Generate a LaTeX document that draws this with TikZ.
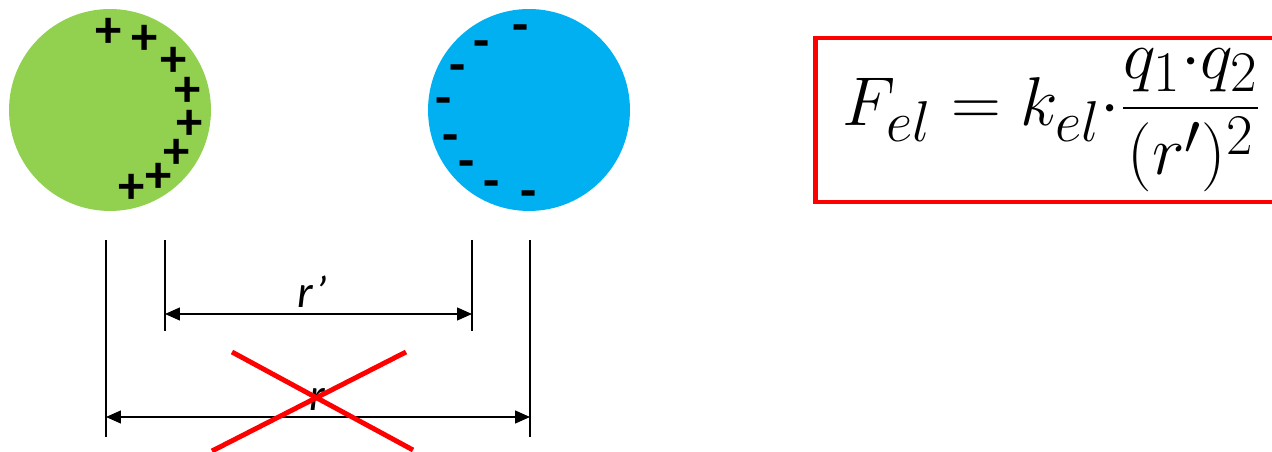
\documentclass[tikz,border=0pt]{standalone}
\usepackage[no-math]{fontspec}
\setmainfont{Carlito}
\usepackage{amsmath}
\usetikzlibrary{arrows.meta}
\definecolor{chargegreen}{RGB}{146,208,80}
\definecolor{chargeblue}{RGB}{0,176,240}
\definecolor{crossred}{RGB}{255,0,0}

\begin{document}
\begin{tikzpicture}[
    x=0.02cm, y=-0.02cm,
    ball/.style={circle, minimum size=4.04cm, inner sep=0pt},
    charge/.style={inner sep=0pt, font=\fontsize{30}{30}\selectfont\bfseries},
    dimlabel/.style={inner sep=0pt, anchor=base, font=\fontsize{26}{26}\selectfont\itshape},
    guide/.style={line width=0.75pt},
    dim/.style={{Triangle[length=3mm,width=2.6mm]}-{Triangle[length=3mm,width=2.6mm]}, line width=0.75pt},
    cross/.style={crossred, line width=2.8pt}
]
    \useasboundingbox (0,0) rectangle (1272,452);

    % the two charged balls
    \node[ball, fill=chargegreen] (pos) at (110,110) {};
    \node[ball, fill=chargeblue] (neg) at (529,110) {};
    \foreach \px/\py [count=\i] in {109/33, 145/40, 174/62, 188/92, 190/125, 177/154, 159/178, 132/189}
        \node[charge] (plus\i) at (\px,\py) {+};
    \foreach \px/\py [count=\i] in {521/34, 482/50, 458/74, 444/107, 451/144, 467/170, 492/190, 529/200}
        \node[charge] (minus\i) at (\px,\py) {-};

    % Coulomb's law
    \node[draw=crossred, line width=2.8pt, minimum width=9.48cm, minimum height=3.28cm] (law) at (1052,120)
        {\scalebox{1.58}{\fontsize{24.88}{30}\selectfont $F_{el}=k_{el}{\cdot}\dfrac{q_1{\cdot}q_2}{(r')^2}$}};

    % dimension lines
    \coordinate (outL) at (106,240);
    \coordinate (inL) at (165,240);
    \coordinate (inR) at (472,240);
    \coordinate (outR) at (530,240);
    \draw[guide] (outL) -- ++(0,197);
    \draw[guide] (inL) -- ++(0,91);
    \draw[guide] (inR) -- ++(0,91);
    \draw[guide] (outR) -- ++(0,197);
    \coordinate (rpL) at (165,314);
    \coordinate (rpR) at (472,314);
    \coordinate (rL) at (106,417);
    \coordinate (rR) at (530,417);
    \draw[dim] (rpL) -- (rpR);
    \draw[dim] (rL) -- (rR);
    \node[dimlabel] (rplabel) at (312,308) {r’};
    \node[dimlabel] (rlabel) at (317,411) {r};

    % crossed out
    \coordinate (xa) at (232,352);
    \coordinate (xb) at (413,450);
    \coordinate (xc) at (406,352);
    \coordinate (xd) at (212,451);
    \draw[cross] (xa) -- (xb);
    \draw[cross] (xc) -- (xd);
\end{tikzpicture}
\end{document}
